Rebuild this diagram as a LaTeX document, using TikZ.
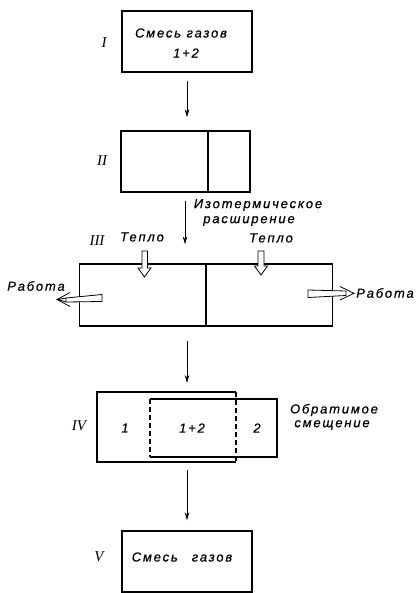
\documentclass[tikz,border=0pt]{standalone}
\usepackage{fontspec}
\setmainfont{Liberation Sans}
\newfontfamily\lbl[LetterSpace=14,FakeBold=0.6]{Liberation Sans}
\newfontfamily\romn{Liberation Serif}
\usetikzlibrary{arrows.meta}
\begin{document}
\begin{tikzpicture}[x=1pt,y=-1pt,
  box/.style={draw,line width=1.3pt,inner sep=0pt},
  txt/.style={font=\lbl\itshape\fontsize{13}{14}\selectfont,inner sep=0pt},
  num/.style={font=\romn\itshape\fontsize{15}{15}\selectfont,inner sep=0pt},
  flow/.style={line width=0.9pt,-{Stealth[length=8pt,width=4.5pt]}},
  hollow/.style={draw,line width=0.8pt,fill=white,line join=miter}]
\useasboundingbox (0,0) rectangle (416,593);
% boxes
\node[box,minimum width=130pt,minimum height=61pt] (b1) at (187,41.5) {};
\node[box,minimum width=129pt,minimum height=61pt] (b2) at (185.5,161.5) {};
\node[box,minimum width=253pt,minimum height=62pt] (b3) at (206,295) {};
\node[box,minimum width=130pt,minimum height=61pt] (b5) at (187,561.5) {};
% dividers
\draw[line width=1.3pt] (208,131) -- (208,192);
\draw[line width=1.3pt] (206,264) -- (206,326);
% box IV
\coordinate (l1) at (97,392); \coordinate (l2) at (236,462);
\coordinate (r1) at (150,399); \coordinate (r2) at (277,457);
\draw[line width=1.3pt] (236,392) -- (97,392) -- (97,462) -- (236,462);
\draw[line width=1.3pt] (150,399) -- (277,399) -- (277,457) -- (150,457);
\draw[line width=1.1pt,dash pattern=on 5pt off 3pt] (236,392) -- (236,462);
\draw[line width=1.1pt,dash pattern=on 5pt off 3pt] (150,399) -- (150,457);
% texts
\node[txt] (t1a) at (181,33) {Смесь газов};
\node[txt] (t1b) at (186,53) {1+2};
\node[txt] (t5) at (182,557) {Смесь\hspace{14pt}газов};
\node[txt] (iso1) at (258,205) {Изотермическое};
\node[txt] (iso2) at (249,221) {расширение};
\node[txt] (q1) at (142,237) {Тепло};
\node[txt] (q2) at (271,238) {Тепло};
\node[txt] (w1) at (36,286) {Работа};
\node[txt] (w2) at (385,293) {Работа};
\node[txt] (c1) at (125,428) {1};
\node[txt] (c12) at (192,428) {1+2};
\node[txt] (c2) at (257,428) {2};
\node[txt] (rev1) at (334,410) {Обратимое};
\node[txt] (rev2) at (332,425) {смещение};
% numerals
\node[num] (n1) at (104,43) {I};
\node[num] (n2) at (102,161) {II};
\node[num] (n3) at (97,241) {III};
\node[num] (n4) at (79,426) {IV};
\node[num] (n5) at (99,557) {V};
% flow arrows
\draw[flow,shorten <=8pt,shorten >=13pt] (b1.south) -- (b2.north -| b1.south);
\draw[flow,shorten <=8pt,shorten >=19pt] ([xshift=-0.5pt]b2.south) -- ([xshift=-0.5pt]b2.south |- b3.north);
\draw[flow,shorten <=14pt,shorten >=9pt] (b1.south |- b3.south) -- (b1.south |- l1);
\draw[flow,shorten <=8pt,shorten >=10pt] (b1.south |- l2) -- (b5.north);
% heat arrows (hollow, down)
\draw[hollow] (142,251) -- (147.5,251) -- (147.5,268) -- (151,268) -- (144.5,277) -- (138,268) -- (142,268) -- cycle;
\draw[hollow] (258,251) -- (264,251) -- (264,266) -- (267.5,266) -- (261,275) -- (254.5,266) -- (258,266) -- cycle;
% work arrows
\draw[hollow] (102,294.5) -- (102,301.5) -- (66,302) -- (66,298) -- cycle;
\draw[line width=0.8pt] (70,292.5) -- (57,299.5) -- (70,306.5);
\draw[line width=0.8pt] (66,298) -- (58,299.5) -- (66,302);
\draw[hollow] (308,290) -- (308,297.5) -- (346,295.5) -- (346,291) -- cycle;
\draw[line width=0.8pt] (340,286.5) -- (354,293.3) -- (340,300);
\end{tikzpicture}
\end{document}
